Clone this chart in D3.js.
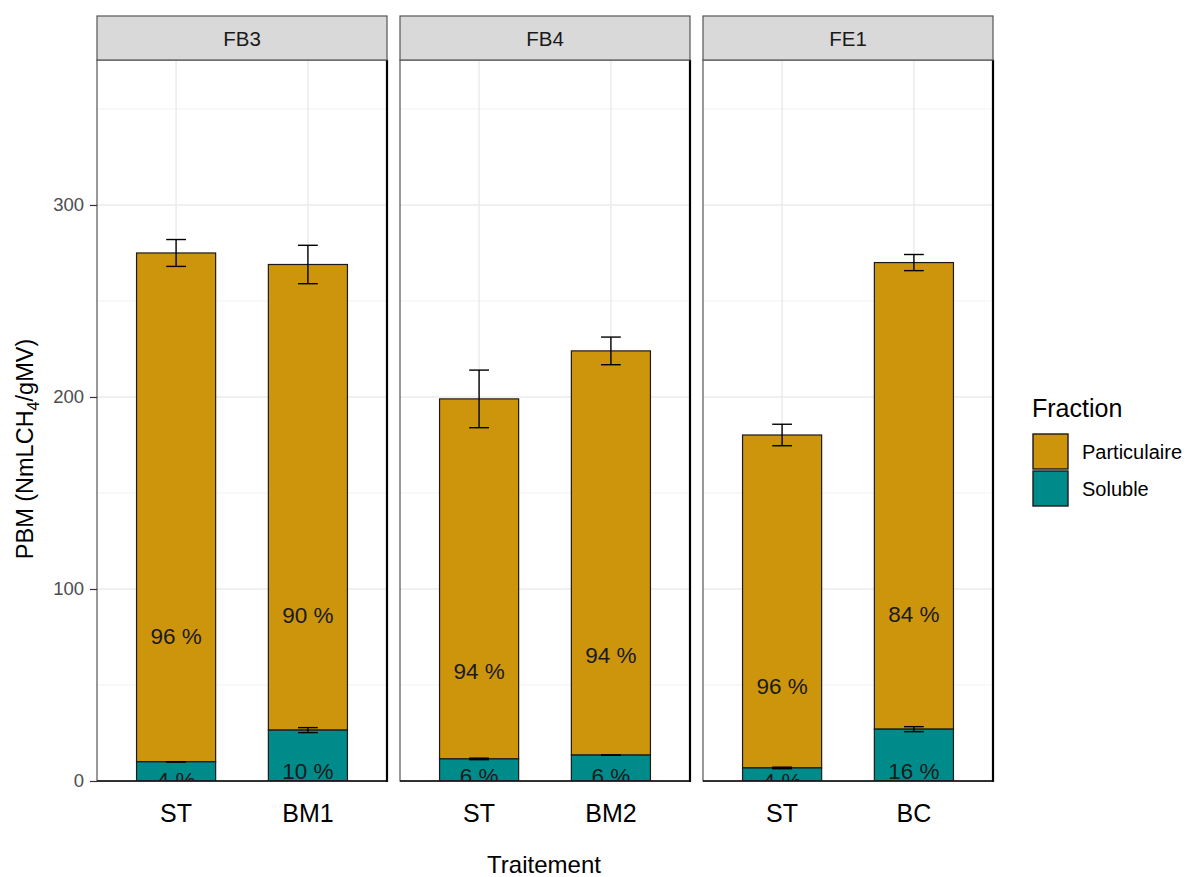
<!DOCTYPE html>
<html>
<head>
<meta charset="utf-8">
<script src="https://cdn.jsdelivr.net/npm/d3@7"></script>
<style>
  body { margin: 0; background: #fff; }
  svg { display: block; font-family: "Liberation Sans", Arial, sans-serif; }
</style>
</head>
<body>
<svg id="chart" width="1189" height="877"></svg>
<script>
// ---- data ----
const facets = ["FB3", "FB4", "FE1"];
const treatments = [["ST", "BM1"], ["ST", "BM2"], ["ST", "BC"]];
const totalMean = [275, 269, 199, 224, 180.2, 270];
const totalSd = [7, 10, 15, 7.2, 5.6, 4.2];
const solubleMean = [10, 26.5, 11.5, 13.5, 6.8, 27];
const solubleSd = [0, 1.3, 0.4, 0, 0.4, 1.3];
const pctParticulaire = ["96 %", "90 %", "94 %", "94 %", "96 %", "84 %"];
const pctSoluble = ["4 %", "10 %", "6 %", "6 %", "4 %", "16 %"];
const labelYParticulaire = [75.5, 86.2, 57, 65.4, 49.2, 86.5];
const labelYSoluble = [0.5, 5, 2.3, 2.3, 0, 5];
const fractions = ["Particulaire", "Soluble"];
const fractionColors = ["#CD950C", "#008B8B"];
const yTicks = [0, 100, 200, 300];
const yMinor = [50, 150, 250, 350];

// ---- layout ----
const svg = d3.select("#chart");
const panelTop = 60, panelBottom = 781;
const panelW = 290, panelGap = 13, panelX0 = 97;
const stripTop = 16;

const y = d3.scaleLinear().domain([0, 375.5]).range([panelBottom, panelTop]);
const color = d3.scaleOrdinal().domain(fractions).range(fractionColors);

facets.forEach((f, fi) => {
  const x0 = panelX0 + fi * (panelW + panelGap);
  const x1 = x0 + panelW;
  const x = d3.scaleBand().domain(treatments[fi]).range([x0, x1])
    .paddingInner(0.4).paddingOuter(0.3);
  const g = svg.append("g");

  const clipId = "clip" + fi;
  svg.append("clipPath").attr("id", clipId).append("rect")
    .attr("x", x0).attr("y", panelTop).attr("width", panelW).attr("height", panelBottom - panelTop);

  // background grid
  g.selectAll(".minor").data(yMinor).join("line")
    .attr("x1", x0).attr("x2", x1).attr("y1", d => y(d)).attr("y2", d => y(d))
    .attr("stroke", "#f2f2f2").attr("stroke-width", 1);
  g.selectAll(".major").data(yTicks).join("line")
    .attr("class", "major")
    .attr("x1", x0).attr("x2", x1).attr("y1", d => y(d)).attr("y2", d => y(d))
    .attr("stroke", "#ebebeb").attr("stroke-width", 1.5);
  g.selectAll(".vmajor").data(treatments[fi]).join("line")
    .attr("class", "vmajor")
    .attr("x1", d => x(d) + x.bandwidth() / 2).attr("x2", d => x(d) + x.bandwidth() / 2)
    .attr("y1", panelTop).attr("y2", panelBottom)
    .attr("stroke", "#ebebeb").attr("stroke-width", 1.5);

  const rows = treatments[fi].map((t, ti) => {
    const k = fi * 2 + ti;
    return {
      t, k,
      total: totalMean[k], totalSd: totalSd[k],
      sol: solubleMean[k], solSd: solubleSd[k]
    };
  });

  const pg = g.append("g").attr("clip-path", `url(#${clipId})`);
  // particulaire bars (stacked on soluble)
  pg.selectAll(".part").data(rows).join("rect")
    .attr("x", d => x(d.t)).attr("width", x.bandwidth())
    .attr("y", d => y(d.total)).attr("height", d => y(d.sol) - y(d.total))
    .attr("fill", color("Particulaire")).attr("stroke", "#1a1a1a").attr("stroke-width", 1.2);
  // soluble bars
  pg.selectAll(".sol").data(rows).join("rect")
    .attr("x", d => x(d.t)).attr("width", x.bandwidth())
    .attr("y", d => y(d.sol)).attr("height", d => y(0) - y(d.sol))
    .attr("fill", color("Soluble")).attr("stroke", "#1a1a1a").attr("stroke-width", 1.2);

  // error bars
  const capW = x.bandwidth() * 0.25;
  const eb = (mean, sd, d) => {
    const cx = x(d.t) + x.bandwidth() / 2;
    pg.append("line").attr("x1", cx).attr("x2", cx)
      .attr("y1", y(mean - sd)).attr("y2", y(mean + sd))
      .attr("stroke", "#000").attr("stroke-width", 1.4);
    [mean - sd, mean + sd].forEach(v => {
      pg.append("line").attr("x1", cx - capW / 2).attr("x2", cx + capW / 2)
        .attr("y1", y(v)).attr("y2", y(v))
        .attr("stroke", "#000").attr("stroke-width", 1.4);
    });
  };
  rows.forEach(d => { eb(d.total, d.totalSd, d); eb(d.sol, d.solSd, d); });

  // percentage labels
  pg.selectAll(".lp").data(rows).join("text")
    .attr("x", d => x(d.t) + x.bandwidth() / 2)
    .attr("y", d => y(labelYParticulaire[d.k]))
    .attr("text-anchor", "middle").attr("dominant-baseline", "central")
    .attr("font-size", 22.5).attr("fill", "#1a1a1a")
    .text(d => pctParticulaire[d.k]);
  pg.selectAll(".ls").data(rows).join("text")
    .attr("x", d => x(d.t) + x.bandwidth() / 2)
    .attr("y", d => y(labelYSoluble[d.k]))
    .attr("text-anchor", "middle").attr("dominant-baseline", "central")
    .attr("font-size", 22.5).attr("fill", "#1a1a1a")
    .text(d => pctSoluble[d.k]);

  // panel border
  g.append("rect").attr("x", x0).attr("y", panelTop).attr("width", panelW).attr("height", panelBottom - panelTop)
    .attr("fill", "none").attr("stroke", "#555").attr("stroke-width", 1.2);
  g.append("line").attr("x1", x1).attr("x2", x1).attr("y1", panelTop).attr("y2", panelBottom + 1)
    .attr("stroke", "#000").attr("stroke-width", 2.2);
  g.append("line").attr("x1", x0).attr("x2", x1 + 1).attr("y1", panelBottom).attr("y2", panelBottom)
    .attr("stroke", "#111").attr("stroke-width", 1.6);

  // strip
  g.append("rect").attr("x", x0).attr("y", stripTop).attr("width", panelW).attr("height", panelTop - stripTop)
    .attr("fill", "#d9d9d9").attr("stroke", "#555").attr("stroke-width", 1.2);
  g.append("text").attr("x", (x0 + x1) / 2).attr("y", (stripTop + panelTop) / 2)
    .attr("text-anchor", "middle").attr("dominant-baseline", "central")
    .attr("font-size", 20.5).attr("fill", "#1a1a1a").text(f);

  // x axis labels
  const xa = svg.append("g").attr("transform", `translate(0,${panelBottom})`)
    .call(d3.axisBottom(x).tickSize(0).tickPadding(23));
  xa.select(".domain").remove();
  xa.selectAll("text").attr("font-size", 25).attr("fill", "#000")
    .attr("font-family", "'Liberation Sans', Arial, sans-serif");
});

// y axis
const ya = svg.append("g").attr("transform", `translate(${panelX0},0)`)
  .call(d3.axisLeft(y).tickValues(yTicks).tickSize(7).tickPadding(6));
ya.select(".domain").remove();
ya.selectAll(".tick line").attr("stroke", "#333").attr("stroke-width", 1.2);
ya.selectAll("text").attr("font-size", 18.5).attr("fill", "#4d4d4d")
  .attr("font-family", "'Liberation Sans', Arial, sans-serif");

// axis titles
svg.append("text").attr("x", 544).attr("y", 873).attr("text-anchor", "middle")
  .attr("font-size", 24).attr("fill", "#000").text("Traitement");
const yt = svg.append("text").attr("transform", `translate(33,449) rotate(-90)`)
  .attr("text-anchor", "middle").attr("font-size", 23.5).attr("fill", "#000");
yt.append("tspan").text("PBM (NmLCH");
yt.append("tspan").attr("font-size", 16).attr("dy", 6).text("4");
yt.append("tspan").attr("dy", -6).text("/gMV)");

// legend
const lg = svg.append("g");
lg.append("text").attr("x", 1032).attr("y", 417).attr("font-size", 25).attr("fill", "#000").text("Fraction");
fractions.forEach((fr, i) => {
  const ky = 434 + i * 37;
  lg.append("rect").attr("x", 1033).attr("y", ky).attr("width", 35).attr("height", 35)
    .attr("fill", color(fr)).attr("stroke", "#1a1a1a").attr("stroke-width", 1.4);
  lg.append("text").attr("x", 1082).attr("y", ky + 17.5).attr("dominant-baseline", "central")
    .attr("font-size", 20).attr("fill", "#000").text(fr);
});
</script>
</body>
</html>
